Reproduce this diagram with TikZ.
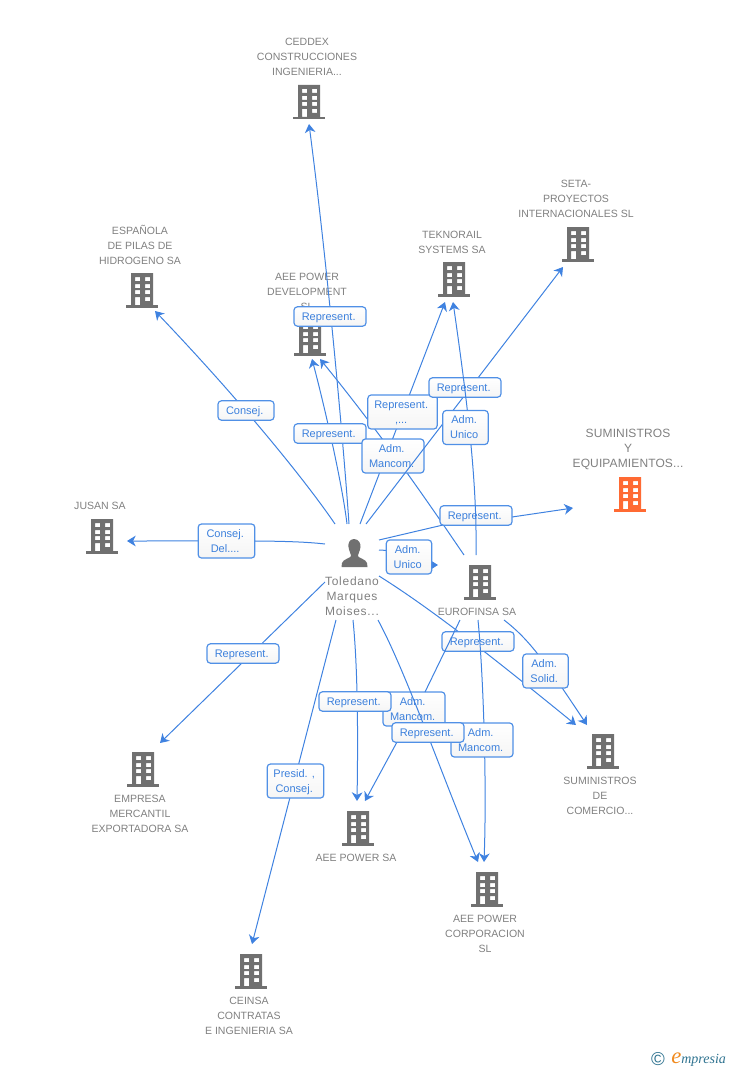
\documentclass[tikz,border=0pt]{standalone}
\usepackage{fontspec}
\setmainfont{Liberation Sans}
\newfontfamily\personfont[LetterSpace=6]{Liberation Sans}
\newfontfamily\targetfont[LetterSpace=1]{Liberation Sans}
\newfontfamily\logofont{Liberation Serif}
\usetikzlibrary{arrows.meta,calc}
\definecolor{lineblue}{HTML}{3F82E0}
\definecolor{boxblue}{HTML}{5090E6}
\definecolor{labblue}{HTML}{3C80DC}
\definecolor{bldgray}{HTML}{707070}
\definecolor{txtgray}{HTML}{808080}
\definecolor{bldorange}{HTML}{FF6A33}
\definecolor{logoblue}{HTML}{2F7390}
\definecolor{logoorange}{HTML}{F08A1E}
\newcommand{\rk}{\kern2pt}
\tikzset{
  x=0.75pt,y=-0.75pt,
  conn/.style={draw=lineblue,line width=0.75pt,-{Stealth[length=6.5pt,width=8pt,inset=2pt]}},
  plainconn/.style={draw=lineblue,line width=0.75pt},
  lab/.style={draw=boxblue,line width=0.9pt,rounded corners=2.5pt,top color=white,bottom color=white!96!black,
    text=labblue,font=\fontsize{8.25}{11.25}\selectfont,align=center,inner sep=0pt,minimum height=14.5pt,text depth=0pt},
  lw72/.style={lab,minimum width=54pt},
  lw62/.style={lab,minimum width=46.5pt,minimum height=25.5pt},
  lw45/.style={lab,minimum width=34pt,minimum height=25.5pt},
  lw57/.style={lab,minimum width=42.5pt,minimum height=25.5pt},
  lw56/.style={lab,minimum width=42pt},
  lw69/.style={lab,minimum width=52pt,minimum height=25.5pt},
  ent/.style={text=txtgray,font=\fontsize{7.9}{11.25}\selectfont,align=center,inner sep=0pt},
  entperson/.style={ent,font=\personfont\fontsize{9}{11.25}\selectfont},
  enttarget/.style={ent,font=\targetfont\fontsize{9}{11.25}\selectfont},
  pics/bld/.style={code={
    \fill[#1,even odd rule] (-11,-17) rectangle (11,15)
      (-7,-13) rectangle (-2,-9) (3,-13) rectangle (8,-9)
      (-7,-6) rectangle (-2,-2) (3,-6) rectangle (8,-2)
      (-7,0) rectangle (-2,4) (3,0) rectangle (8,4)
      (-7,7) rectangle (-2,15) (3,7) rectangle (8,11);
    \fill[#1] (-16,15) rectangle (16,17.5);
  }},
}
\begin{document}
\begin{tikzpicture}
\useasboundingbox (0,0) rectangle (728,1070);
% person
\fill[bldgray] (354,553) ++(0,-14) .. controls (349,-14+553) and (348,-9+553) .. (348.5,-6+553)
  .. controls (349,-2+553) and (351,1+553) .. (351,3+553) .. controls (351,5+553) and (343,6+553) .. (342,10+553)
  -- (341.5,14+553) -- (367.5,14+553) -- (367,10+553) .. controls (366,6+553) and (358,5+553) .. (358,3+553)
  .. controls (358,1+553) and (360,-2+553) .. (360.5,-6+553) .. controls (361,-9+553) and (359,-14+553) .. (354,-14+553) -- cycle;
\node[entperson] (person) at (352,596.5) {Toledano\\Marques\\Moises...};
% buildings and names
\pic at (309,102) {bld=bldgray};
\node[ent] (ceddex) at (307,57) {CEDDEX\\CONSTRUCCIONES\\INGENIERIA...};
\pic at (578,244) {bld=bldgray};
\node[ent] (seta) at (576,199) {SETA-\\PROYECTOS\\INTERNACIONALES SL};
\pic at (142,290) {bld=bldgray};
\node[ent] (espanola) at (140,245) {ESPAÑOLA\\DE PILAS DE\\HIDROGENO SA};
\pic at (454,279) {bld=bldgray};
\node[ent] (teknorail) at (452,242) {TEKNORAIL\\SYSTEMS SA};
\pic at (310,338) {bld=bldgray};
\node[ent] (dev) at (307,292) {AEE POWER\\DEVELOPMENT\\SL};
\pic at (630,494) {bld=bldorange};
\node[enttarget] (sumy) at (628,449) {SUMINISTROS\\Y\\EQUIPAMIENTOS...};
\pic at (102,536) {bld=bldgray};
\node[ent] (jusan) at (100,506) {JUSAN SA};
\pic at (480,582) {bld=bldgray};
\node[ent] (eurofinsa) at (477,612) {EUROFINSA SA};
\pic at (143,769) {bld=bldgray};
\node[ent] (empresa) at (140,814) {EMPRESA\\MERCANTIL\\EXPORTADORA SA};
\pic at (358,828) {bld=bldgray};
\node[ent] (aeesa) at (356,858) {AEE POWER SA};
\pic at (603,751) {bld=bldgray};
\node[ent] (sumcom) at (600,796) {SUMINISTROS\\DE\\COMERCIO...};
\pic at (487,889) {bld=bldgray};
\node[ent] (corp) at (485,934) {AEE POWER\\CORPORACION\\SL};
\pic at (251,971) {bld=bldgray};
\node[ent] (ceinsa) at (249,1016) {CEINSA\\CONTRATAS\\E INGENIERIA SA};
% connector ends
\coordinate (pCeddex) at (349,524); \coordinate (tCeddex) at (309,124);
\coordinate (pEsp) at (335,524); \coordinate (tEsp) at (155,311);
\coordinate (pDev) at (347,524); \coordinate (tDevA) at (312,359);
\coordinate (eDev) at (464,555); \coordinate (tDevB) at (320,359);
\coordinate (pTek) at (360,524); \coordinate (tTekA) at (445,302);
\coordinate (pSeta) at (366,524); \coordinate (tSeta) at (563,267);
\coordinate (eTek) at (476,555); \coordinate (tTekB) at (453,302);
\coordinate (pSumy) at (379,540); \coordinate (tSumy) at (573,508);
\coordinate (pEuro) at (379,550); \coordinate (tEuro) at (438,565);
\coordinate (pJusan) at (325,544); \coordinate (tJusan) at (127,541);
\coordinate (pEmp) at (325,582); \coordinate (tEmp) at (160,743);
\coordinate (pCeinsa) at (336,620); \coordinate (tCeinsa) at (252,944);
\coordinate (pSa) at (353,620); \coordinate (tSaA) at (357,801);
\coordinate (eSa) at (460,620); \coordinate (tSaB) at (365,801);
\coordinate (pCorp) at (378,620); \coordinate (tCorpA) at (478,862);
\coordinate (eCorp) at (478,620); \coordinate (tCorpB) at (484,862);
\coordinate (pCom) at (379,576); \coordinate (tComA) at (576,725);
\coordinate (eCom) at (504,620); \coordinate (tComB) at (587,725);
% connectors and their labels, stacked as in the picture
\draw[conn] (pCeddex) .. controls (344,450) and (328,270) .. (tCeddex);
\node[lw72] (l1) at (330,316.5) {Represent.\rk};
\draw[conn] (pEsp) .. controls (305,480) and (240,400) .. (tEsp);
\node[lw56] (l2) at (246,410.5) {Consej.\rk};
\draw[conn] (pDev) .. controls (343,490) and (328,420) .. (tDevA);
\node[lw72] (l3) at (330,433.5) {Represent.\rk};
\draw[conn] (eDev) .. controls (440,520) and (390,445) .. (tDevB);
\draw[conn] (pTek) -- (tTekA);
\node[lw69] (l4) at (402.5,412) {Represent.\rk\\,...\rk};
\node[lw62] (l5) at (393,456) {Adm.\rk\\Mancom.\rk};
\draw[conn] (pSeta) -- (tSeta);
\node[lw72] (l6) at (465,387.5) {Represent.\rk};
\draw[conn] (pSumy) -- (443,525) -- (512,517) -- (tSumy);
\node[lw72] (l8) at (476,515.5) {Represent.\rk};
\draw[conn] (eTek) .. controls (477,490) and (470,420) .. (tTekB);
\node[lw45] (l7) at (465.5,427.5) {Adm.\rk\\Unico\rk};
\draw[conn] (pEuro) .. controls (410,551) and (420,565) .. (tEuro);
\node[lw45] (l9) at (409,557) {Adm.\rk\\Unico\rk};
\draw[conn] (pJusan) .. controls (290,540) and (240,541) .. (tJusan);
\node[lw57] (l10) at (226.5,541) {Consej.\rk\\Del....\rk};
\draw[conn] (pEmp) -- (tEmp);
\node[lw72] (l11) at (243,653.5) {Represent.\rk};
\draw[conn] (pCeinsa) -- (tCeinsa);
\node[lw57] (l12) at (295.5,781) {Presid. ,\rk\\Consej.\rk};
\draw[conn] (pCom) .. controls (430,608) and (490,655) .. (tComA);
\node[lw72] (l15) at (478,641.5) {Represent.\rk};
\draw[conn] (eCom) .. controls (530,640) and (545,662) .. (tComB);
\node[lw45] (l18) at (545.5,671) {Adm.\rk\\Solid.\rk};
\node[lw62] (l16) at (414,709) {Adm.\rk\\Mancom.\rk};
\draw[plainconn] (eSa) -- (425,692);
\draw[conn] (397,742) -- (tSaB);
\draw[conn] (pSa) .. controls (358,670) and (358,740) .. (tSaA);
\node[lw72] (l13) at (355,701.5) {Represent.\rk};
\draw[conn] (pCorp) .. controls (405,670) and (440,770) .. (tCorpA);
\draw[conn] (eCorp) .. controls (483,670) and (487,780) .. (tCorpB);
\node[lw62] (l17) at (482,740) {Adm.\rk\\Mancom.\rk};
\node[lw72] (l14) at (428,732.5) {Represent.\rk};
% logo
\node[inner sep=0pt,text=logoblue,font=\fontsize{14}{14}\selectfont] (copy) at (658,1059) {©};
\node[inner sep=0pt,anchor=base west,text=logoblue,font=\logofont\itshape\fontsize{10.5}{12}\selectfont] (logo) at (671,1063)
  {\textcolor{logoorange}{\fontsize{17}{17}\selectfont e}mpresia};
\end{tikzpicture}
\end{document}
